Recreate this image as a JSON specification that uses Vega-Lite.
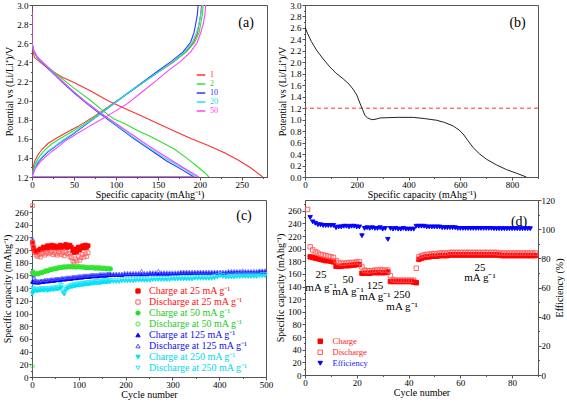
{
"$schema": "https://vega.github.io/schema/vega-lite/v6.json",
"background": "white",
"padding": {"left": 2, "top": 0, "right": 0, "bottom": 0},
"columns": 2,
"spacing": {"row": 23, "column": 38},
"bounds": "flush",
"resolve": {"scale": {"x": "independent", "y": "independent", "color": "independent", "stroke": "independent", "fill": "independent", "shape": "independent"}},
"config": {
  "font": "Liberation Serif",
  "view": {"stroke": "#555", "strokeWidth": 1},
  "axis": {"labelFont": "Liberation Serif", "titleFont": "Liberation Serif", "labelFontSize": 9, "titleFontSize": 10, "titleFontWeight": "normal", "labelColor": "#000", "titleColor": "#000", "domainColor": "#555", "tickColor": "#555", "grid": false, "labelFlush": false, "labelOverlap": false, "labelBound": false},
  "axisX": {"labelPadding": 0, "titlePadding": 0},
  "axisY": {"labelPadding": 1, "titlePadding": 2},
  "legend": {"labelFont": "Liberation Serif", "titleFont": "Liberation Serif", "padding": 0, "offset": 0}
},
"datasets": {
  "ca": [
    {"n":"1","h":"d","x":[0,3,10,20,35,50,70,90,110,130,150,170,190,210,230,245,260,275],"y":[2.55,2.45,2.4,2.33,2.25,2.19,2.1,2.0,1.92,1.84,1.76,1.68,1.6,1.53,1.45,1.38,1.3,1.2]},
    {"n":"1","h":"c","x":[0,1,3,7,12,19,28,40,55,75,95,115,133,151,168,182,192,197,199,201,202],"y":[1.2,1.28,1.36,1.43,1.49,1.55,1.6,1.66,1.73,1.84,1.96,2.08,2.19,2.3,2.4,2.5,2.6,2.7,2.8,2.9,3.0]},
    {"n":"2","h":"d","x":[0,2,6,15,30,50,70,85,97,110,125,140,155,170,184,197,205,211],"y":[2.6,2.52,2.45,2.38,2.27,2.13,2.0,1.89,1.81,1.76,1.69,1.63,1.56,1.49,1.4,1.31,1.25,1.2]},
    {"n":"2","h":"c","x":[0,2,5,10,16,24,33,45,60,78,97,116,134,152,169,184,194,199,201,203,204],"y":[1.2,1.29,1.36,1.43,1.49,1.55,1.6,1.66,1.74,1.85,1.97,2.09,2.2,2.31,2.41,2.51,2.61,2.71,2.8,2.9,3.0]},
    {"n":"10","h":"d","x":[0,2,6,12,20,35,50,65,80,100,120,140,160,178,193],"y":[2.6,2.52,2.45,2.4,2.33,2.2,2.08,1.97,1.87,1.74,1.61,1.49,1.37,1.28,1.2]},
    {"n":"10","h":"c","x":[0,3,7,13,20,28,37,49,63,80,98,116,133,150,166,180,189,193,195,197,198],"y":[1.2,1.29,1.35,1.41,1.47,1.52,1.58,1.65,1.74,1.85,1.97,2.09,2.2,2.31,2.41,2.51,2.61,2.71,2.8,2.9,3.0]},
    {"n":"10","h":"b","x":[0,193],"y":[1.2,1.2]},
    {"n":"20","h":"d","x":[0,2,6,12,20,35,50,65,80,100,120,140,160,180,196],"y":[2.6,2.52,2.45,2.4,2.34,2.21,2.09,1.98,1.88,1.75,1.62,1.5,1.39,1.29,1.2]},
    {"n":"20","h":"c","x":[0,3,6,12,19,27,36,48,62,80,98,116,134,152,168,182,191,196,199,201,203],"y":[1.2,1.29,1.35,1.41,1.47,1.52,1.58,1.65,1.74,1.85,1.97,2.09,2.2,2.31,2.41,2.51,2.61,2.71,2.8,2.9,3.0]},
    {"n":"50","h":"d","x":[0,2,6,12,20,35,50,65,80,100,120,140,160,180,199],"y":[2.6,2.53,2.46,2.41,2.34,2.21,2.09,1.98,1.88,1.76,1.64,1.52,1.41,1.3,1.2]},
    {"n":"50","h":"c","x":[0,4,9,16,24,32,40,53,70,92,114,131,147,162,177,189,197,201,204,206,207],"y":[1.2,1.29,1.35,1.41,1.47,1.52,1.58,1.65,1.74,1.85,1.97,2.09,2.2,2.31,2.41,2.51,2.61,2.71,2.8,2.9,3.0]},
    {"n":"50","h":"v","x":[0,0],"y":[2.6,2.93]},
    {"n":"50","h":"b","x":[0,199],"y":[1.2,1.2]}
  ],
  "cb": [
    {"x":[0,10,25,45,70,96,120,148,170,186,200,212,222,232,242,252,262,275,290,320,360,418,460,508,540,572,595,611,630,650,675,701,740,778,820,855],
     "y":[2.62,2.5,2.36,2.21,2.06,1.92,1.81,1.71,1.62,1.53,1.43,1.29,1.18,1.07,1.03,1.01,1.0,1.01,1.03,1.035,1.04,1.04,1.02,0.99,0.95,0.89,0.82,0.75,0.63,0.51,0.4,0.31,0.21,0.13,0.06,0.0]}
  ],
  "cc": [
    {"x":[1,2,3,4,6,9,12,15,18,21,24,27,30,33,36,39,42,45,48,51,54,57,60,63,66,69,72,75,78,81,84,87,90,93,96,99,102,105,108,111,114,117,120,123,126,129,132,135,138,141,144,147,150,153,156,159,162,165,168,174,180,186,192,198,204,210,216,222,228,234,240,246,252,258,264,270,276,282,288,294,300,306,312,318,324,330,336,342,348,354,360,366,372,378,384,390,396,402,408,414,420,426,432,438,444,450,456,462,468,474,480,486,492,498],
     "a":[212,207,203,201,199,197,198,200,202,201,205,203,204,207,203,206,208,204,207,205,203,206,208,204,207,205,209,204,206,208,205,199,196,202,197,205,200,204,207,203,208,204,207],
     "b":[270,212,205,200,196,192,190,193,189,194,196,192,195,197,194,196,198,193,196,194,192,197,195,193,196,191,197,194,195,190,188,183,181,186,183,190,184,188,193,189,194,190,196],
     "c":[165,163,162,163,162,163,162,163,164,164,165,166,167,167,168,169,169,170,170,171,171,172,172,172,173,173,173,173,174,173,174,173,174,173,173,174,173,173,173,173,172,172,172,172,172,172,172,171,172,171,172,171,171,171,171,170,171,170,170],
     "d":[17,166,165,164,163,164,163,164,165,165,166,167,168,168,169,170,170,171,171,172,172,173,173,173,174,174,174,174,175,174,175,174,175,174,174,175,174,174,174,174,173,173,173,173,173,173,173,172,173,172,173,172,172,172,172,171,172,171,171],
     "e":[151,150,150,150,149,150,149,149,150,150,150,151,151,151,151,152,152,152,152,153,153,153,153,154,154,154,154,155,155,155,155,156,156,156,156,157,157,157,157,158,158,158,158,158,159,159,159,159,159,159,160,160,160,160,160,160,161,161,161,161,161,161,161,162,162,162,162,162,162,162,162,162,163,163,163,163,163,163,163,163,163,163,163,164,164,164,164,164,164,164,164,164,164,164,164,164,164,164,164,164,165,165,165,165,165,165,165,165,165,165,165,166,166,166],
     "f":[218,166,160,157,152,152,151,151,152,152,152,153,153,153,153,154,154,154,154,155,155,155,155,156,156,156,156,157,157,157,157,158,158,158,158,159,159,159,159,160,160,160,160,160,161,161,161,161,161,161,162,162,162,162,162,162,163,163,163,163,163,163,163,164,164,164,164,164,164,167,164,164,165,165,165,167,165,165,165,165,165,165,165,166,166,166,166,166,166,166,166,166,166,166,166,166,166,166,166,166,167,167,167,167,167,168,167,167,167,167,167,168,168,168],
     "g":[131,133,134,136,135,136,135,136,136,137,136,137,137,136,137,137,138,137,138,138,138,139,139,141,133,130,136,139,140,141,142,142,143,143,144,144,144,145,145,145,146,146,146,146,147,147,147,148,148,148,148,148,149,149,149,149,149,150,150,150,150,150,151,151,151,151,151,152,152,152,152,152,152,153,153,153,153,153,153,153,154,154,154,154,154,154,154,154,155,155,155,155,155,155,155,156,157,159,158,157,157,157,157,158,158,158,158,158,158,158,158,159,159,159],
     "h":[148,140,138,139,138,139,138,139,139,140,139,140,140,139,140,140,141,140,141,141,141,142,146,145,136,133,139,142,143,144,145,145,146,146,147,147,147,148,148,148,149,149,149,149,150,150,150,151,151,151,151,151,152,152,152,152,152,153,153,153,153,153,154,154,154,154,154,155,155,155,155,155,155,156,156,156,156,156,156,156,157,157,157,157,157,157,157,157,158,158,158,158,158,158,158,159,160,162,161,160,160,160,160,161,161,161,161,161,161,161,161,161,162,162]}
  ],
  "cd": [
    {"x":[1,2,3,4,5,6,7,8,9,10,11,12,13,14,15,16,17,18,19,20,21,22,23,24,25,26,27,28,29,30,31,32,33,34,35,36,37,38,39,40,41,42,43,44,45,46,47,48,49,50,51,52,53,54,55,56,57,58,59,60,61,62,63,64,65,66,67,68,69,70,71,72,73,74,75,76,77,78,79,80,81,82,83,84,85,86,87,88,89],
     "C":[null,187,186,185,184,183,182,181,181,180,179,172,172,172,173,173,173,174,174,175,175,161,161,161,161,162,162,162,162,162,162,163,148,148,148,148,148,148,148,148,148,147,146,183,185,186,187,187,188,188,188,189,189,189,189,190,190,190,190,190,190,190,190,190,190,190,190,190,190,190,190,190,190,190,190,189,189,189,189,189,189,189,189,189,189,189,189,189,189],
     "D":[262,203,198,195,193,191,190,189,188,187,186,181,178,177,177,177,178,178,178,179,179,171,166,165,165,165,166,166,167,166,166,166,157,151,150,150,150,150,150,150,150,150,169,187,189,190,191,191,192,192,192,193,193,193,193,194,194,194,194,194,194,194,194,194,194,194,194,194,194,194,194,194,194,194,193,193,193,193,193,193,193,193,193,193,193,193,193,193,193],
     "E":[null,108,105,104,103,103,102.5,102.5,102.5,102.5,102.5,101,101.5,101.5,102,102,101.5,102,102,101.5,101.5,95.5,100.5,101,100.5,101,100.5,100.5,101,100,100.5,93,100.5,100,100.5,100,100,100.5,100,100,100,100,102,102,102,102,101.5,101.5,101.5,101.5,101.5,101.5,101,101,101,101,101,101,100.5,100.5,100.5,100.5,100.5,100.5,100.5,100.5,100.5,100.5,100.5,100.5,100.5,100.5,100.3,100.3,100.3,100.3,100.3,100.3,100.3,100.3,100.3,100.3,100.3,100.3,100.3,100.3,100.3]}
  ]
},
"concat": [
  {
    "width": 235, "height": 172,
    "layer": [
      {
        "data": {"name": "ca"},
        "transform": [{"flatten": ["x", "y"]}],
        "mark": {"type": "line", "strokeWidth": 1.1, "clip": true},
        "encoding": {
          "x": {"field": "x", "type": "quantitative", "scale": {"domain": [0, 280], "nice": false},
                "axis": {"title": "Specific capacity (mAhg⁻¹)", "tickCount": 200, "labelOverlap": false, "labelPadding": 0, "titlePadding": 0, "values": [0,25,50,75,100,125,150,175,200,225,250,275], "labelExpr": "datum.value % 50 == 0 ? format(datum.value, 'd') : ''", "tickSize": {"condition": {"test": "datum.value % 50 != 0", "value": 1.5}, "value": 3}}},
          "y": {"field": "y", "type": "quantitative", "scale": {"domain": [1.2, 3.0], "nice": false, "zero": false},
                "axis": {"title": "Potential vs (Li/Li⁺)/V", "tickCount": 200, "labelOverlap": false, "labelPadding": 1, "titlePadding": 2, "values": [1.2,1.3,1.4,1.5,1.6,1.7,1.8,1.9,2.0,2.1,2.2,2.3,2.4,2.5,2.6,2.7,2.8,2.9,3.0], "labelExpr": "round(datum.value*10) % 2 == 0 ? format(datum.value, '.1f') : ''", "tickSize": {"condition": {"test": "round(datum.value*10) % 2 != 0", "value": 1.5}, "value": 3}}},
          "color": {"field": "n", "type": "nominal", "scale": {"domain": ["1","2","10","20","50"], "range": ["#ff3030","#30e030","#3030ff","#20e0ee","#ff40ff"]},
                    "legend": {"title": null, "orient": "none", "legendX": 164, "legendY": 65, "labelFontSize": 8, "symbolType": "stroke", "symbolSize": 72, "symbolStrokeWidth": 1.5, "rowPadding": 0, "labelOffset": 4,
                               "labelColor": {"expr": "datum.value == '1' ? '#ff3030' : datum.value == '2' ? '#30d030' : datum.value == '10' ? '#3030ff' : datum.value == '20' ? '#20d8e8' : '#ff40ff'"}}},
          "detail": {"field": "h"}
        }
      },
      {
        "data": {"values": [{"x": 255, "y": 2.81, "t": "(a)"}]},
        "mark": {"type": "text", "fontSize": 14, "font": "Liberation Serif", "color": "#000"},
        "encoding": {"x": {"field": "x", "type": "quantitative"}, "y": {"field": "y", "type": "quantitative"}, "text": {"field": "t"}}
      }
    ]
  },
  {
    "width": 233, "height": 172,
    "layer": [
      {
        "data": {"values": [{"y": 1.2}]},
        "mark": {"type": "rule", "color": "#ff3030", "strokeDash": [4, 3], "strokeWidth": 1},
        "encoding": {"y": {"field": "y", "type": "quantitative"}}
      },
      {
        "data": {"name": "cb"},
        "transform": [{"flatten": ["x", "y"]}],
        "mark": {"type": "line", "color": "#222", "strokeWidth": 1, "clip": true},
        "encoding": {
          "x": {"field": "x", "type": "quantitative", "scale": {"domain": [0, 900], "nice": false},
                "axis": {"title": "Specific capacity (mAhg⁻¹)", "tickCount": 200, "labelOverlap": false, "labelPadding": 0, "titlePadding": 0, "values": [0,100,200,300,400,500,600,700,800,900], "labelExpr": "datum.value % 200 == 0 ? format(datum.value, 'd') : ''", "tickSize": {"condition": {"test": "datum.value % 200 != 0", "value": 1.5}, "value": 3}}},
          "y": {"field": "y", "type": "quantitative", "scale": {"domain": [0, 3.0], "nice": false},
                "axis": {"title": "Potential vs (Li/Li⁺)/V", "tickCount": 200, "labelOverlap": false, "labelPadding": 1, "titlePadding": 2, "values": [0,0.1,0.2,0.3,0.4,0.5,0.6,0.7,0.8,0.9,1.0,1.1,1.2,1.3,1.4,1.5,1.6,1.7,1.8,1.9,2.0,2.1,2.2,2.3,2.4,2.5,2.6,2.7,2.8,2.9,3.0], "labelExpr": "round(datum.value*10) % 2 == 0 ? format(datum.value, '.1f') : ''", "tickSize": {"condition": {"test": "round(datum.value*10) % 2 != 0", "value": 1.5}, "value": 3}}}
        }
      },
      {
        "data": {"values": [{"x": 821, "y": 2.68, "t": "(b)"}]},
        "mark": {"type": "text", "fontSize": 14, "font": "Liberation Serif", "color": "#000"},
        "encoding": {"x": {"field": "x", "type": "quantitative"}, "y": {"field": "y", "type": "quantitative"}, "text": {"field": "t"}}
      }
    ]
  },
  {
    "width": 234, "height": 177,
    "layer": [
      {
        "data": {"name": "cc"},
        "transform": [{"flatten": ["x","a","b","c","d","e","f","g","h"]}, {"fold": ["a","b","c","d","e","f","g","h"], "as": ["s", "v"]}],
        "mark": {"type": "point", "size": 14, "strokeWidth": 0.8, "opacity": 1},
        "encoding": {
          "x": {"field": "x", "type": "quantitative", "scale": {"domain": [0, 500], "nice": false},
                "axis": {"title": "Cycle number", "tickCount": 200, "labelOverlap": false, "labelPadding": 0, "titlePadding": 0, "values": [0,50,100,150,200,250,300,350,400,450,500], "labelExpr": "datum.value % 100 == 0 ? format(datum.value, 'd') : ''", "tickSize": {"condition": {"test": "datum.value % 100 != 0", "value": 1.5}, "value": 3}}},
          "y": {"field": "v", "type": "quantitative", "scale": {"domain": [0, 279], "nice": false},
                "axis": {"title": "Specific capacity (mAhg⁻¹)", "tickCount": 200, "labelOverlap": false, "labelPadding": 1, "titlePadding": 2, "values": [0,10,20,30,40,50,60,70,80,90,100,110,120,130,140,150,160,170,180,190,200,210,220,230,240,250,260,270], "labelExpr": "datum.value % 20 == 0 ? format(datum.value, 'd') : ''", "tickSize": {"condition": {"test": "datum.value % 20 != 0", "value": 1.5}, "value": 3}}},
          "stroke": {"field": "s", "type": "nominal", "scale": {"domain": ["a","b","c","d","e","f","g","h"], "range": ["#ff0000","#ff5a5a","#22dd22","#44e844","#0000ff","#5050ff","#00e0f0","#30e8ff"]},
                     "legend": {"title": null, "orient": "none", "legendX": 101, "legendY": 86, "labelFontSize": 10, "symbolSize": 18, "symbolStrokeWidth": 1, "rowPadding": 1, "labelOffset": 6,
                                "labelExpr": "datum.value == 'a' ? 'Charge at 25 mA g⁻¹' : datum.value == 'b' ? 'Discharge at 25 mA g⁻¹' : datum.value == 'c' ? 'Charge at 50 mA g⁻¹' : datum.value == 'd' ? 'Discharge at 50 mA g⁻¹' : datum.value == 'e' ? 'Charge at 125 mA g⁻¹' : datum.value == 'f' ? 'Discharge at 125 mA g⁻¹' : datum.value == 'g' ? 'Charge at 250 mA g⁻¹' : 'Discharge at 250 mA g⁻¹'",
                                "labelColor": {"expr": "indexof('ab', datum.value) >= 0 ? '#ff1010' : indexof('cd', datum.value) >= 0 ? '#22cc22' : indexof('ef', datum.value) >= 0 ? '#1010ee' : '#00d8e8'"}}},
          "fill": {"field": "s", "type": "nominal", "scale": {"domain": ["a","b","c","d","e","f","g","h"], "range": ["#ff0000","transparent","#22dd22","transparent","#0000ff","transparent","#00e0f0","transparent"]}},
          "shape": {"field": "s", "type": "nominal", "scale": {"domain": ["a","b","c","d","e","f","g","h"], "range": ["square","square","circle","circle","triangle-up","triangle-up","triangle-down","triangle-down"]}}
        }
      },
      {
        "data": {"values": [{"x": 453, "y": 253, "t": "(c)"}]},
        "mark": {"type": "text", "fontSize": 14, "font": "Liberation Serif", "color": "#000"},
        "encoding": {"x": {"field": "x", "type": "quantitative"}, "y": {"field": "y", "type": "quantitative"}, "text": {"field": "t"}}
      }
    ]
  },
  {
    "width": 233, "height": 175,
    "resolve": {"scale": {"y": "independent"}},
    "layer": [
      {
        "layer": [
          {
            "data": {"name": "cd"},
            "transform": [{"flatten": ["x","C","D","E"]}, {"fold": ["C","D","E"], "as": ["s", "v"]}, {"filter": "datum.s != 'E'"}],
            "mark": {"type": "point", "size": 20, "strokeWidth": 0.9, "opacity": 1},
            "encoding": {
              "x": {"field": "x", "type": "quantitative", "scale": {"domain": [0, 90], "nice": false},
                    "axis": {"title": "Cycle number", "tickCount": 200, "labelOverlap": false, "labelPadding": 0, "titlePadding": 0, "values": [0,10,20,30,40,50,60,70,80,90], "labelExpr": "datum.value % 20 == 0 ? format(datum.value, 'd') : ''", "tickSize": {"condition": {"test": "datum.value % 20 != 0", "value": 1.5}, "value": 3}}},
              "y": {"field": "v", "type": "quantitative", "scale": {"domain": [0, 277], "nice": false},
                    "axis": {"title": "Specific capacity (mAhg⁻¹)", "tickCount": 200, "labelOverlap": false, "labelPadding": 1, "titlePadding": 2, "values": [0,10,20,30,40,50,60,70,80,90,100,110,120,130,140,150,160,170,180,190,200,210,220,230,240,250,260,270], "labelExpr": "datum.value % 20 == 0 ? format(datum.value, 'd') : ''", "tickSize": {"condition": {"test": "datum.value % 20 != 0", "value": 1.5}, "value": 3}}},
              "stroke": {"field": "s", "type": "nominal", "scale": {"domain": ["C","D","E"], "range": ["#ff0000","#ff5a5a","#0000ff"]},
                         "legend": {"title": null, "orient": "none", "legendX": 11, "legendY": 137, "labelFontSize": 8.5, "symbolSize": 20, "symbolStrokeWidth": 1, "rowPadding": 2, "labelOffset": 8,
                                    "labelExpr": "datum.value == 'C' ? 'Charge' : datum.value == 'D' ? 'Discharge' : 'Efficiency'",
                                    "labelColor": {"expr": "datum.value == 'E' ? '#2020ff' : '#ff2020'"}}},
              "fill": {"field": "s", "type": "nominal", "scale": {"domain": ["C","D","E"], "range": ["#ff0000","transparent","#0000ff"]}},
              "shape": {"field": "s", "type": "nominal", "scale": {"domain": ["C","D","E"], "range": ["square","square","triangle-down"]}}
            }
          },
          {
            "data": {"values": [
              {"x": 6.2, "y": 158, "t": "25"}, {"x": 6.2, "y": 137, "t": "mA g⁻¹"},
              {"x": 16.6, "y": 150, "t": "50"}, {"x": 16.6, "y": 131, "t": "mA g⁻¹"},
              {"x": 27, "y": 141, "t": "125"}, {"x": 27, "y": 123, "t": "mA g⁻¹"},
              {"x": 37.5, "y": 127, "t": "250"}, {"x": 37.5, "y": 108, "t": "mA g⁻¹"},
              {"x": 67.6, "y": 170, "t": "25"}, {"x": 67.6, "y": 153, "t": "mA g⁻¹"}
            ]},
            "mark": {"type": "text", "fontSize": 11, "font": "Liberation Serif", "color": "#000"},
            "encoding": {"x": {"field": "x", "type": "quantitative"}, "y": {"field": "y", "type": "quantitative"}, "text": {"field": "t"}}
          },
          {
            "data": {"values": [{"x": 82.7, "y": 242, "t": "(d)"}]},
            "mark": {"type": "text", "fontSize": 14, "font": "Liberation Serif", "color": "#000"},
            "encoding": {"x": {"field": "x", "type": "quantitative"}, "y": {"field": "y", "type": "quantitative"}, "text": {"field": "t"}}
          }
        ]
      },
      {
        "data": {"name": "cd"},
        "transform": [{"flatten": ["x","C","D","E"]}, {"fold": ["C","D","E"], "as": ["s", "v"]}, {"filter": "datum.s == 'E'"}],
        "mark": {"type": "point", "size": 20, "strokeWidth": 0.9, "opacity": 1},
        "encoding": {
          "x": {"field": "x", "type": "quantitative"},
          "y": {"field": "v", "type": "quantitative", "scale": {"domain": [0, 120], "nice": false},
                "axis": {"orient": "right", "title": "Efficiency (%)", "tickCount": 200, "labelOverlap": false, "labelPadding": 0, "titlePadding": 0, "titleAngle": 270, "titleBaseline": "top", "values": [0,10,20,30,40,50,60,70,80,90,100,110,120], "labelExpr": "datum.value % 20 == 0 ? format(datum.value, 'd') : ''", "tickSize": {"condition": {"test": "datum.value % 20 != 0", "value": 1.5}, "value": 3}}},
          "stroke": {"field": "s", "type": "nominal", "scale": {"domain": ["C","D","E"], "range": ["#ff0000","#ff5a5a","#0000ff"]}},
          "fill": {"field": "s", "type": "nominal", "scale": {"domain": ["C","D","E"], "range": ["#ff0000","transparent","#0000ff"]}},
          "shape": {"field": "s", "type": "nominal", "scale": {"domain": ["C","D","E"], "range": ["square","square","triangle-down"]}}
        }
      }
    ]
  }
]
}
